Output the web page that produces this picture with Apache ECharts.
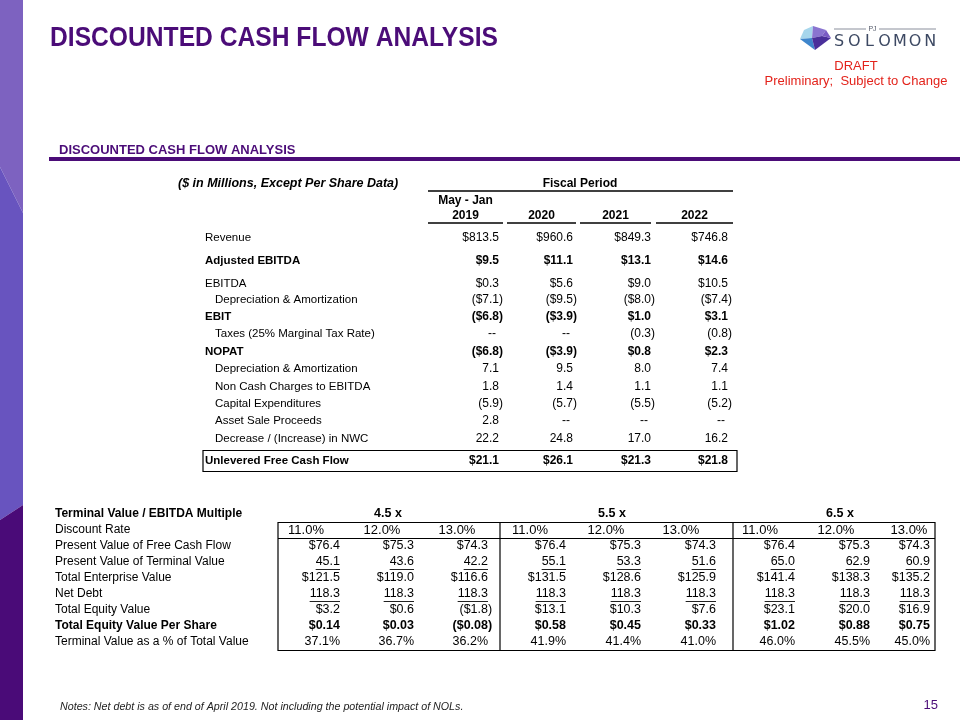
<!DOCTYPE html>
<html>
<head>
<meta charset="utf-8">
<script src="https://cdn.jsdelivr.net/npm/echarts@6/dist/echarts.min.js"></script>
<style>html,body{margin:0;padding:0;background:#fff}#chart{width:960px;height:720px}</style>
</head>
<body>
<div id="chart"></div>
<script>
// ---------------- DATA ----------------
const topCategories = [
  'Revenue', 'Adjusted EBITDA', 'EBITDA', 'Depreciation & Amortization', 'EBIT',
  'Taxes (25% Marginal Tax Rate)', 'NOPAT', 'Depreciation & Amortization',
  'Non Cash Charges to EBITDA', 'Capital Expenditures', 'Asset Sale Proceeds',
  'Decrease / (Increase) in NWC', 'Unlevered Free Cash Flow'
];
const fiscalYears = ['2019', '2020', '2021', '2022'];
const fy2019 = [813.5, 9.5, 0.3, -7.1, -6.8, null, -6.8, 7.1, 1.8, -5.9, 2.8, 22.2, 21.1];
const fy2020 = [960.6, 11.1, 5.6, -9.5, -3.9, null, -3.9, 9.5, 1.4, -5.7, null, 24.8, 26.1];
const fy2021 = [849.3, 13.1, 9.0, -8.0, 1.0, -0.3, 0.8, 8.0, 1.1, -5.5, null, 17.0, 21.3];
const fy2022 = [746.8, 14.6, 10.5, -7.4, 3.1, -0.8, 2.3, 7.4, 1.1, -5.2, null, 16.2, 21.8];

const bottomCategories = [
  'Terminal Value / EBITDA Multiple', 'Discount Rate', 'Present Value of Free Cash Flow',
  'Present Value of Terminal Value', 'Total Enterprise Value', 'Net Debt',
  'Total Equity Value', 'Total Equity Value Per Share', 'Terminal Value as a % of Total Value'
];
const ebitdaMultiples = ['4.5 x', '5.5 x', '6.5 x'];
const discountRates = [11.0, 12.0, 13.0, 11.0, 12.0, 13.0, 11.0, 12.0, 13.0];
const pvFreeCashFlow = [76.4, 75.3, 74.3, 76.4, 75.3, 74.3, 76.4, 75.3, 74.3];
const pvTerminalValue = [45.1, 43.6, 42.2, 55.1, 53.3, 51.6, 65.0, 62.9, 60.9];
const totalEnterpriseValue = [121.5, 119.0, 116.6, 131.5, 128.6, 125.9, 141.4, 138.3, 135.2];
const netDebt = [118.3, 118.3, 118.3, 118.3, 118.3, 118.3, 118.3, 118.3, 118.3];
const totalEquityValue = [3.2, 0.6, -1.8, 13.1, 10.3, 7.6, 23.1, 20.0, 16.9];
const equityPerShare = [0.14, 0.03, -0.08, 0.58, 0.45, 0.33, 1.02, 0.88, 0.75];
const terminalPct = [37.1, 36.7, 36.2, 41.9, 41.4, 41.0, 46.0, 45.5, 45.0];

// ---------------- FORMAT / LAYOUT ----------------
const topValues = [fy2019, fy2020, fy2021, fy2022];
const topBold   = [0,1,0,0,1,0,1,0,0,0,0,0,1];
const topIndent = [0,0,0,1,0,1,0,1,1,1,1,1,0];
const topDollar = [1,1,1,1,1,0,1,0,0,0,0,0,1];
const topRowY   = [238,261,284,300,317,334,352,369,387,404,421,439,461];
const topColRight = [503, 577, 655, 732];
const topSeg = [[428,503],[507,576],[580,651],[656,733]];
const TOP_FS = 11.5, TOP_VAL_FS = 12, TOP_LABEL_X = 205, TOP_INDENT = 10;

const bottomRows = [null, discountRates, pvFreeCashFlow, pvTerminalValue, totalEnterpriseValue,
  netDebt, totalEquityValue, equityPerShare, terminalPct];
const bottomKind = [null, 'rate', 'usd1', 'num1u', 'usd1', 'num1u', 'usd1', 'usd2', 'pct'];
const bottomBold = [1,0,0,0,0,0,0,1,0];
const bottomRowY = [514,530,546,562,578,594,610,626,642];
const bottomColRight = [340,414,488,566,641,716,795,870,930];
const bottomRateCenter = [306,382,457,530,606,681,760,836,909];
const bottomGroupCenter = [388,612,840];
const BOT_FS = 12, BOT_VAL_FS = 12.5, BOT_RATE_FS = 13, BOT_LABEL_X = 55;

const FONT = '"Liberation Sans", Arial, Helvetica, sans-serif';
const mctx = document.createElement('canvas').getContext('2d');
function tw(t, font){ mctx.font = font; return mctx.measureText(t).width; }
function mkFont(size, bold, italic){ return (italic?'italic ':'') + (bold?'bold ':'') + size + 'px ' + FONT; }
function fmt(v, dec, dollar){
  if (v == null) return '--';
  const s = (dollar ? '$' : '') + Math.abs(v).toFixed(dec);
  return v < 0 ? '(' + s + ')' : s;
}

// ---------------- RENDERERS ----------------
function renderTop(params, api){
  const c = api.value(0), r = api.value(1);
  let text, x, align, font;
  if (c < 0){
    font = mkFont(TOP_FS, topBold[r], false);
    text = topCategories[r];
    x = TOP_LABEL_X + (topIndent[r] ? TOP_INDENT : 0);
    align = 'left';
  } else {
    font = mkFont(TOP_VAL_FS, topBold[r], false);
    const v = topValues[c][r];
    text = fmt(v, 1, topDollar[r]);
    x = topColRight[c] - ((v != null && v < 0) ? 0 : tw(')', font)) - (v == null ? 3 : 0);
    align = 'right';
  }
  const p = api.coord([x, topRowY[r]]);
  return {type:'text', x:p[0], y:p[1], style:{text:text, font:font, fill:'#000', align:align, verticalAlign:'middle'}};
}

function renderBottom(params, api){
  const c = api.value(0), r = api.value(1);
  if (c < 0){
    const p = api.coord([BOT_LABEL_X, bottomRowY[r]]);
    return {type:'text', x:p[0], y:p[1], style:{text:bottomCategories[r], font:mkFont(BOT_FS, bottomBold[r], false), fill:'#000', align:'left', verticalAlign:'middle'}};
  }
  if (r === 0){
    const p = api.coord([bottomGroupCenter[c], bottomRowY[r]]);
    return {type:'text', x:p[0], y:p[1], style:{text:ebitdaMultiples[c], font:mkFont(BOT_VAL_FS, true, false), fill:'#000', align:'center', verticalAlign:'middle'}};
  }
  const kind = bottomKind[r];
  const v = bottomRows[r][c];
  if (kind === 'rate'){
    const p = api.coord([bottomRateCenter[c], bottomRowY[r]]);
    return {type:'text', x:p[0], y:p[1], style:{text:v.toFixed(1) + '%', font:mkFont(BOT_RATE_FS, false, false), fill:'#000', align:'center', verticalAlign:'middle'}};
  }
  const font = mkFont(BOT_VAL_FS, bottomBold[r], false);
  let text;
  if (kind === 'usd1') text = fmt(v, 1, true);
  else if (kind === 'usd2') text = fmt(v, 2, true);
  else if (kind === 'num1u') text = fmt(v, 1, false);
  else text = v.toFixed(1) + '%';
  const x = bottomColRight[c] + (v < 0 ? tw(')', font) : 0);
  const p = api.coord([x, bottomRowY[r]]);
  const children = [{type:'text', x:p[0], y:p[1], style:{text:text, font:font, fill:'#000', align:'right', verticalAlign:'middle'}}];
  if (kind === 'num1u'){
    const w = tw(text, font);
    children.push({type:'line', shape:{x1:p[0]-w, y1:p[1]+7.5, x2:p[0], y2:p[1]+7.5}, style:{stroke:'#222', lineWidth:1}});
  }
  return {type:'group', children:children};
}

const topData = [];
for (let r = 0; r < topCategories.length; r++){
  topData.push([-1, r]);
  for (let c = 0; c < fiscalYears.length; c++) topData.push([c, r]);
}
const bottomData = [];
for (let r = 0; r < bottomCategories.length; r++){
  bottomData.push([-1, r]);
  const n = r === 0 ? ebitdaMultiples.length : discountRates.length;
  for (let c = 0; c < n; c++) bottomData.push([c, r]);
}

// ---------------- DECORATION ----------------
const PURPLE = '#4b0c78';
const TITLE = 'DISCOUNTED CASH FLOW ANALYSIS';
const titleFont = 'bold 27px ' + FONT;
const titleScale = 448 / tw(TITLE, titleFont);
const g = [];
// left band
g.push({type:'polygon', shape:{points:[[0,0],[23,0],[23,213],[0,167]]}, style:{fill:'#7d62c0'}});
g.push({type:'polygon', shape:{points:[[0,167],[23,213],[23,505],[0,520]]}, style:{fill:'#6854bf'}});
g.push({type:'polygon', shape:{points:[[0,520],[23,505],[23,720],[0,720]]}, style:{fill:'#4a0b78'}});
// titles
g.push({type:'text', x:50, y:39, scaleX:titleScale, style:{text:TITLE, font:titleFont, fill:PURPLE, align:'left', verticalAlign:'middle'}});
g.push({type:'text', x:59, y:150, style:{text:TITLE, font:'bold 13px ' + FONT, fill:PURPLE, align:'left', verticalAlign:'middle'}});
g.push({type:'rect', shape:{x:49, y:157, width:911, height:4}, style:{fill:PURPLE}});
// draft
g.push({type:'text', x:856, y:66, style:{text:'DRAFT', font:'13px ' + FONT, fill:'#e3231b', align:'center', verticalAlign:'middle'}});
g.push({type:'text', x:856, y:81, style:{text:'Preliminary;  Subject to Change', font:'13px ' + FONT, fill:'#e3231b', align:'center', verticalAlign:'middle'}});
// logo
g.push({type:'polygon', shape:{points:[[800,39],[804,30],[813,26],[812,38]]}, style:{fill:'#a6d6ec'}});
g.push({type:'polygon', shape:{points:[[813,26],[826,30],[822,36],[812,38]]}, style:{fill:'#8a74d0'}});
g.push({type:'polygon', shape:{points:[[800,39],[812,38],[815,50]]}, style:{fill:'#3f86cc'}});
g.push({type:'polygon', shape:{points:[[812,38],[822,36],[831,38],[815,50]]}, style:{fill:'#4a2f9a'}});
g.push({type:'polygon', shape:{points:[[822,36],[826,30],[831,38]]}, style:{fill:'#7a5cc4'}});
g.push({type:'line', shape:{x1:834, y1:29, x2:866, y2:29}, style:{stroke:'#8a8f9c', lineWidth:1}});
g.push({type:'line', shape:{x1:879, y1:29, x2:936, y2:29}, style:{stroke:'#8a8f9c', lineWidth:1}});
g.push({type:'text', x:872.5, y:29, style:{text:'PJ', font:'7px ' + FONT, fill:'#555b6b', align:'center', verticalAlign:'middle'}});
'SOLOMON'.split('').forEach(function(ch, i){
  g.push({type:'text', x:839 + i*15.2, y:42, style:{text:ch, font:'16px "DejaVu Sans", sans-serif', fill:'#3d4963', align:'center', verticalAlign:'middle'}});
});
// top table headers
g.push({type:'text', x:178, y:184, style:{text:'($ in Millions, Except Per Share Data)', font:mkFont(12.5,true,true), fill:'#000', align:'left', verticalAlign:'middle'}});
g.push({type:'text', x:580, y:184, style:{text:'Fiscal Period', font:mkFont(12,true,false), fill:'#000', align:'center', verticalAlign:'middle'}});
g.push({type:'line', shape:{x1:428, y1:191, x2:733, y2:191}, style:{stroke:'#000', lineWidth:1.5}});
g.push({type:'text', x:(topSeg[0][0]+topSeg[0][1])/2, y:201, style:{text:'May - Jan', font:mkFont(12,true,false), fill:'#000', align:'center', verticalAlign:'middle'}});
fiscalYears.forEach(function(yr, i){
  g.push({type:'text', x:(topSeg[i][0]+topSeg[i][1])/2, y:216, style:{text:yr, font:mkFont(12,true,false), fill:'#000', align:'center', verticalAlign:'middle'}});
  g.push({type:'line', shape:{x1:topSeg[i][0], y1:223, x2:topSeg[i][1], y2:223}, style:{stroke:'#000', lineWidth:1.5}});
});
g.push({type:'rect', shape:{x:203, y:450.5, width:534, height:21}, style:{fill:'none', stroke:'#000', lineWidth:1.2}});
// bottom table box
g.push({type:'rect', shape:{x:278, y:522.5, width:657, height:128}, style:{fill:'none', stroke:'#000', lineWidth:1.2}});
g.push({type:'line', shape:{x1:278, y1:538.5, x2:935, y2:538.5}, style:{stroke:'#000', lineWidth:1.2}});
g.push({type:'line', shape:{x1:500, y1:522.5, x2:500, y2:650.5}, style:{stroke:'#000', lineWidth:1.2}});
g.push({type:'line', shape:{x1:733, y1:522.5, x2:733, y2:650.5}, style:{stroke:'#000', lineWidth:1.2}});
// footer
g.push({type:'text', x:60, y:707, style:{text:'Notes: Net debt is as of end of April 2019. Not including the potential impact of NOLs.', font:'italic 10.7px ' + FONT, fill:'#222', align:'left', verticalAlign:'middle'}});
g.push({type:'text', x:938, y:705, style:{text:'15', font:'13px ' + FONT, fill:PURPLE, align:'right', verticalAlign:'middle'}});

// ---------------- CHART ----------------
const chart = echarts.init(document.getElementById('chart'), null, {renderer:'canvas'});
chart.setOption({
  animation:false,
  backgroundColor:'#ffffff',
  grid:{left:0, right:0, top:0, bottom:0},
  xAxis:{type:'value', min:0, max:960, show:false},
  yAxis:{type:'value', min:0, max:720, inverse:true, show:false},
  graphic:{elements:g},
  series:[
    {type:'custom', name:'Fiscal Period', coordinateSystem:'cartesian2d', data:topData, renderItem:renderTop, silent:true, clip:false},
    {type:'custom', name:'Sensitivity', coordinateSystem:'cartesian2d', data:bottomData, renderItem:renderBottom, silent:true, clip:false}
  ]
});
</script>
</body>
</html>
